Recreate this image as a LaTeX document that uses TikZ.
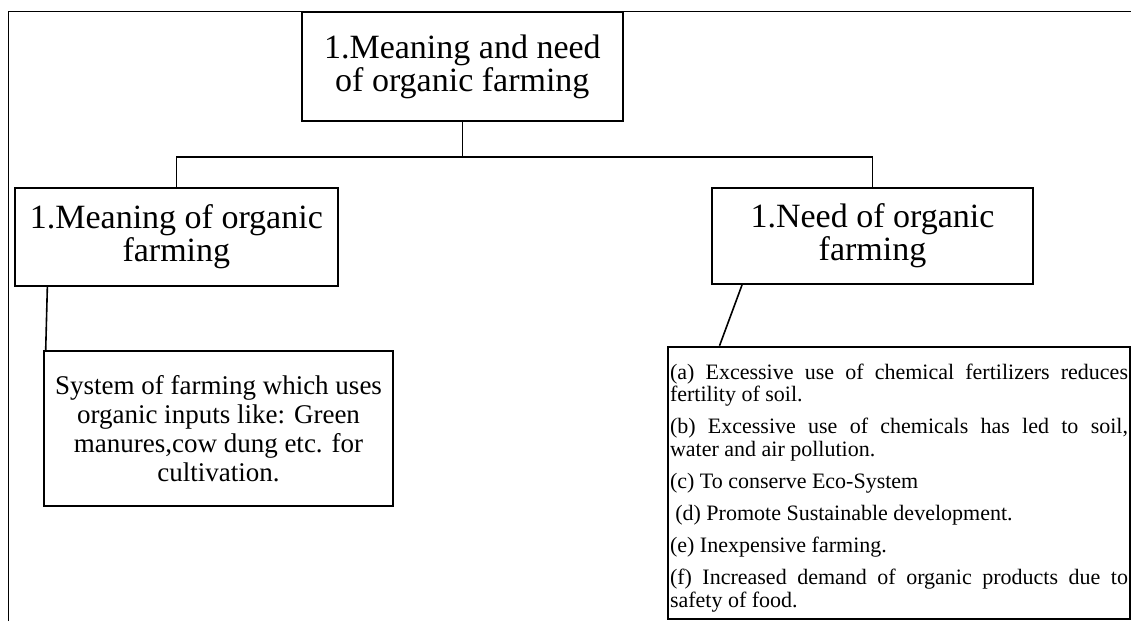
\documentclass[tikz,border=0pt]{standalone}
\usepackage{fontspec}
\setmainfont{Liberation Serif}
\begin{document}
\begin{tikzpicture}[x=0.75pt, y=-0.75pt,
topic/.style={rectangle, draw=black, line width=1.5pt, inner sep=0pt, align=center, font=\fontsize{25.5}{24.75}\selectfont},
detail/.style={rectangle, draw=black, line width=1.5pt, inner sep=0pt, align=center, font=\fontsize{20.25}{21.75}\selectfont},
reasons/.style={rectangle, draw=black, line width=1.5pt, inner xsep=1.4pt, inner ysep=0pt, text width=343.5pt, align=justify, font=\fontsize{16.5}{17}\selectfont},
link/.style={draw=black, line width=1.2pt},
]
\useasboundingbox (0,0) rectangle (1131,621);
% page frame
\draw[line width=0.6pt] (8.5,621) -- (8.5,11) -- (1131,11);
% headings
\node (A) [topic, minimum width=240.5pt, minimum height=81.75pt] at (462.35,66.5) {1.Meaning and need\\of organic farming};
\node (B) [topic, minimum width=242pt, minimum height=73.5pt] at (176.35,237) {1.Meaning of organic\\farming};
\node (C) [topic, minimum width=240.75pt, minimum height=72pt] at (872.5,236) {1.Need of organic\\farming};
% details
\node (D) [detail, minimum width=261.3pt, minimum height=116.25pt] at (218.5,428.5) {System of farming which uses\\organic inputs like: Green\\manures,cow dung etc. for\\cultivation.};
\node (E) [reasons, minimum width=346.3pt, minimum height=204.2pt] at (899,482.85) {\setlength{\parskip}{7pt}\rule{0pt}{19pt}%
(a) Excessive use of chemical fertilizers reduces\linebreak fertility of soil.\par
(b) Excessive use of chemicals has led to soil,\linebreak water and air pollution.\par
(c) To conserve Eco-System\par
\hspace*{4pt}(d) Promote Sustainable development.\par
(e) Inexpensive farming.\par
(f) Increased demand of organic products due to\linebreak safety of food.};
% connectors
\draw[link] (A.south) -- ++(0,34.7) coordinate (bar);
\draw[link] (B.north) |- (bar) -| (C.north);
\draw[link] ([xshift=25pt]B.south west) -- ([xshift=1.8pt]D.north west);
\draw[link] ([xshift=23.25pt]C.south west) -- ([xshift=39.3pt]E.north west);
\end{tikzpicture}
\end{document}
